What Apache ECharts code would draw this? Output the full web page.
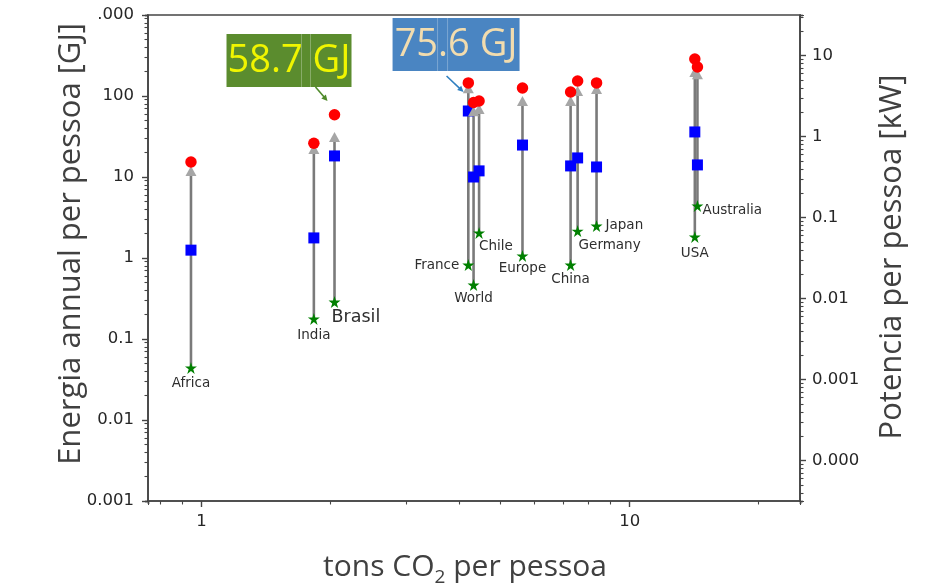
<!DOCTYPE html>
<html><head><meta charset="utf-8">
<script src="https://cdn.jsdelivr.net/npm/echarts@6/dist/echarts.min.js"></script>
<style>html,body{margin:0;padding:0;background:#fff}#c{width:940px;height:587px}</style>
</head><body><div id="c"></div>
<script>
// ---------------- data ----------------
const countries    = ['Africa','India','Brasil','France','World','Chile','Europe','China','Germany','Japan','USA','Australia'];
const co2PerPerson = [0.945, 1.83, 2.045, 4.20, 4.32, 4.45, 5.62, 7.28, 7.56, 8.37, 14.2, 14.4];
const energyRed    = [15.3, 26.1, 58.7, 145, 83, 86.7, 125.6, 112, 153, 145, 286, 228];
const energyArrow  = [11.9, 22.2, 31.2, 125, 65, 69, 86.7, 86.7, 115, 122, 198, 186];
const energyBlue   = [1.25, 1.77, 18.2, 65.3, 10, 11.9, 24.8, 13.7, 17.2, 13.3, 36, 14.1];
const energyStar   = [0.044, 0.177, 0.286, 0.82, 0.464, 2.04, 1.06, 0.82, 2.15, 2.48, 1.82, 4.39];

const annoTexts = ['58.7 GJ', '75.6 GJ'];
const annoX     = [2.045, 4.32];
const annoY     = [58.7, 75.6];

const leftTicks       = [0.001, 0.01, 0.1, 1, 10, 100, 1000];
const leftTickLabels  = ['0.001', '0.01', '0.1', '1', '10', '100', '1.000'];
const rightTicks      = [0.0001, 0.001, 0.01, 0.1, 1, 10];
const rightTickLabels = ['0.000', '0.001', '0.01', '0.1', '1', '10'];
const xTicks          = [1, 10];
const xTickLabels     = ['1', '10'];

const X_MIN = 0.75, X_MAX = 25, Y_MIN = 0.001, Y_MAX = 1000;
const GJ_PER_KW_YEAR = 31.536;
const minorFactors = [2, 3, 4, 5, 6, 7, 8, 9];

// ---------------- styles ----------------
const SPINE = '#454545';
const TICKFONT = 'DejaVu Sans';
const labelPlace = {
  Africa:    {align:'center', offset:[0,16]},
  India:     {align:'center', offset:[0,17]},
  Brasil:    {align:'left',   offset:[-3,15], fontSize:17.5},
  France:    {align:'right',  offset:[-9,1]},
  World:     {align:'center', offset:[0,13]},
  Chile:     {align:'left',   offset:[0,14]},
  Europe:    {align:'center', offset:[0,13]},
  China:     {align:'center', offset:[0,15]},
  Germany:   {align:'left',   offset:[1,14]},
  Japan:     {align:'left',   offset:[9,-1]},
  USA:       {align:'center', offset:[0,17]},
  Australia: {align:'left',   offset:[5,5]}
};
const annoStyle = [
  {dx:-108, dy:-80.7, w:125, h:53, fill:'#5b8c2e', color:'#f0f500', arrow:'#4f8a2a', a:[-19,-27.7,-7,-13.7], seams:[75,84]},
  {dx:-81,  dy:-87.8, w:127, h:53, fill:'#4a85c2', color:'#f2dcae', arrow:'#2f7fc0', a:[-27,-29.8,-10,-13.8], seams:[45,55]}
];
const STAR = 'path://M50,0 L61.2,34.5 L97.6,34.5 L68.2,55.9 L79.4,90.5 L50,69.1 L20.6,90.5 L31.8,55.9 L2.4,34.5 L38.8,34.5 Z';

function fmtFrom(ticks, labels) {
  return function (v) {
    for (let i = 0; i < ticks.length; i++) {
      if (Math.abs(Math.log10(v) - Math.log10(ticks[i])) < 0.01) return labels[i];
    }
    return '';
  };
}

const tickLabelStyle = {fontFamily: TICKFONT, fontSize: 16.5, color: '#262626'};

const xAxes = [{
  type: 'log', min: X_MIN, max: X_MAX, position: 'bottom',
  axisLine: {show: true, lineStyle: {color: SPINE, width: 1.6}},
  axisTick: {show: true, length: 6, customValues: xTicks, lineStyle: {color: SPINE, width: 1.4}},
  axisLabel: Object.assign({customValues: xTicks, margin: 12, formatter: fmtFrom(xTicks, xTickLabels)}, tickLabelStyle),
  splitLine: {show: false}
}];
const yAxes = [{
  type: 'log', min: Y_MIN, max: Y_MAX, position: 'left',
  axisLine: {show: true, lineStyle: {color: SPINE, width: 1.6}},
  axisTick: {show: true, length: 6, lineStyle: {color: SPINE, width: 1.4}},
  axisLabel: Object.assign({margin: 14, formatter: fmtFrom(leftTicks, leftTickLabels)}, tickLabelStyle),
  splitLine: {show: false}
}, {
  type: 'log', min: Y_MIN / GJ_PER_KW_YEAR, max: Y_MAX / GJ_PER_KW_YEAR, position: 'right',
  axisLine: {show: true, lineStyle: {color: SPINE, width: 1.6}},
  axisTick: {show: true, length: 6, customValues: rightTicks, lineStyle: {color: SPINE, width: 1.4}},
  axisLabel: Object.assign({customValues: rightTicks, margin: 12, formatter: fmtFrom(rightTicks, rightTickLabels)}, tickLabelStyle),
  splitLine: {show: false}
}];
function minorAxis(min, max, pos) {
  return {
    type: 'log', min: min, max: max, position: pos,
    axisLine: {show: false}, axisLabel: {show: false}, splitLine: {show: false},
    axisTick: {show: true, length: 3.5, lineStyle: {color: SPINE, width: 1.1}}
  };
}
minorFactors.forEach(function (k) {
  xAxes.push(minorAxis(X_MIN / k, X_MAX / k, 'bottom'));
  yAxes.push(minorAxis(Y_MIN / k, Y_MAX / k, 'left'));
  yAxes.push(minorAxis(Y_MIN / GJ_PER_KW_YEAR / k, Y_MAX / GJ_PER_KW_YEAR / k, 'right'));
});

const pts = function (vals) { return countries.map(function (c, i) { return [co2PerPerson[i], vals[i]]; }); };

const option = {
  animation: false,
  backgroundColor: '#fff',
  grid: {left: 148, right: 140, top: 15, bottom: 86, show: true, borderColor: SPINE, borderWidth: 1.6,
         backgroundColor: 'transparent', containLabel: false, outerBoundsMode: 'none'},
  xAxis: xAxes,
  yAxis: yAxes,
  series: [{
    type: 'custom', z: 1,
    data: countries.map(function (c, i) { return [co2PerPerson[i], energyStar[i], energyArrow[i]]; }),
    encode: {x: 0, y: [1, 2]},
    renderItem: function (params, api) {
      const p1 = api.coord([api.value(0), api.value(1)]);
      const p2 = api.coord([api.value(0), api.value(2)]);
      return {type: 'line', shape: {x1: p1[0], y1: p1[1], x2: p2[0], y2: p2[1]},
              style: {stroke: '#7a7a7a', lineWidth: 2.6}};
    }
  }, {
    type: 'scatter', z: 2, symbol: 'rect', symbolSize: 11,
    itemStyle: {color: '#0000ff', opacity: 1}, data: pts(energyBlue)
  }, {
    type: 'scatter', z: 3, symbol: STAR, symbolSize: 12,
    itemStyle: {color: '#008000', opacity: 1},
    data: countries.map(function (c, i) {
      const lp = labelPlace[c];
      return {name: c, value: [co2PerPerson[i], energyStar[i]],
        label: {show: true, position: 'inside', formatter: '{b}', align: lp.align, verticalAlign: 'middle',
                offset: lp.offset, fontFamily: TICKFONT, fontSize: lp.fontSize || 13.5, color: '#2e2e2e'}};
    })
  }, {
    type: 'scatter', z: 4, symbol: 'triangle', symbolSize: [11, 10],
    itemStyle: {color: '#a6a6a6', opacity: 1}, data: pts(energyArrow)
  }, {
    type: 'scatter', z: 5, symbol: 'circle', symbolSize: 11.5,
    itemStyle: {color: '#ff0000', opacity: 1}, data: pts(energyRed)
  }]
};

const chart = echarts.init(document.getElementById('c'), null, {renderer: 'canvas'});
chart.setOption(option);

const graphics = [];
annoTexts.forEach(function (t, i) {
  const p = chart.convertToPixel({xAxisIndex: 0, yAxisIndex: 0}, [annoX[i], annoY[i]]);
  const s = annoStyle[i];
  const bx = p[0] + s.dx, by = p[1] + s.dy;
  graphics.push({type: 'rect', z: 100, shape: {x: bx, y: by, width: s.w, height: s.h}, style: {fill: s.fill}});
  s.seams.forEach(function (sx) {
    graphics.push({type: 'line', z: 101, shape: {x1: bx + sx, y1: by, x2: bx + sx, y2: by + s.h},
                   style: {stroke: 'rgba(255,255,255,0.28)', lineWidth: 1}});
  });
  graphics.push({type: 'text', z: 102, x: bx + s.w / 2, y: by + s.h / 2 + 1,
    style: {text: t, fill: s.color, font: '38px "Open Sans"', align: 'center', verticalAlign: 'middle'}});
  const x1 = p[0] + s.a[0], y1 = p[1] + s.a[1], x2 = p[0] + s.a[2], y2 = p[1] + s.a[3];
  const ang = Math.atan2(y2 - y1, x2 - x1), L = 6, W = 3;
  graphics.push({type: 'line', z: 101, shape: {x1: x1, y1: y1, x2: x2 - L * 0.6 * Math.cos(ang), y2: y2 - L * 0.6 * Math.sin(ang)},
                 style: {stroke: s.arrow, lineWidth: 1.6}});
  const bxp = x2 - L * Math.cos(ang), byp = y2 - L * Math.sin(ang);
  graphics.push({type: 'polygon', z: 101, shape: {points: [[x2, y2],
    [bxp + W * Math.sin(ang), byp - W * Math.cos(ang)], [bxp - W * Math.sin(ang), byp + W * Math.cos(ang)]]},
    style: {fill: s.arrow}});
});
// white text box behind the left title (it hides the first digit of the top tick label)
graphics.push({type: 'rect', z: 90, shape: {x: 0, y: 0, width: 96, height: 40}, style: {fill: '#fff'}});
graphics.push({type: 'text', z: 95, x: 71, y: 244, rotation: Math.PI / 2,
  style: {text: 'Energia annual per pessoa [GJ]', font: '31px "Open Sans"', fill: '#404040', align: 'center', verticalAlign: 'middle'}});
graphics.push({type: 'text', z: 95, x: 892, y: 257, rotation: Math.PI / 2,
  style: {text: 'Potencia per pessoa [kW]', font: '31px "Open Sans"', fill: '#404040', align: 'center', verticalAlign: 'middle'}});
graphics.push({type: 'text', z: 95, x: 465, y: 567,
  style: {text: 'tons CO{s|2} per pessoa', font: '30px "Open Sans"', fill: '#404040', align: 'center', verticalAlign: 'middle',
          lineHeight: 40, rich: {s: {fontSize: 19, fontFamily: 'Open Sans', lineHeight: 40, verticalAlign: 'bottom', fill: '#404040'}}}});
chart.setOption({graphic: graphics});
</script></body></html>
